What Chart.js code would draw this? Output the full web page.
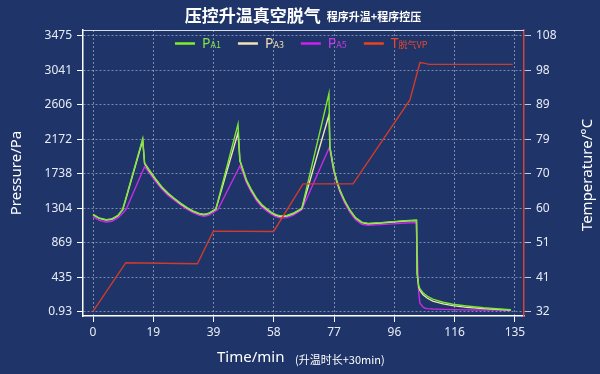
<!DOCTYPE html>
<html>
<head>
<meta charset="utf-8">
<script src="https://cdn.jsdelivr.net/npm/chart.js@4.4.0/dist/chart.umd.min.js"></script>
<style>
  html, body { margin: 0; padding: 0; background: #1F3468; }
  #wrap { width: 600px; height: 374px; }
</style>
</head>
<body>
<div id="wrap"><canvas id="chart" width="600" height="374"></canvas></div>
<script>
// time (min) for the pressure samples
const timeP = [0, 2, 4.2, 6, 8, 9.5, 10.6, 15.9, 16.5, 18, 20, 22, 24, 26, 28, 30, 32, 34, 35.5, 37, 39.3,
  40, 46.4, 47, 48, 49.1, 50.5, 52.3, 54, 55.5, 57, 58.5, 60, 62, 64, 66.8,
  75.5, 75.8, 77, 78, 79, 80.5, 82.2, 84, 86, 88, 92, 96, 100, 103.5,
  103.7, 104.2, 104.6, 105.6, 106.2, 107, 108.7, 112, 115.1, 119.5, 125, 130, 133.7];

const pA1 = [1227, 1180, 1160, 1170, 1215, 1290, 1443, 2180, 1875, 1785, 1675, 1575, 1495, 1430, 1370, 1315, 1270, 1237, 1227, 1240, 1295,
  1400, 2363, 1910, 1790, 1660, 1550, 1430, 1350, 1300, 1255, 1222, 1207, 1212, 1240, 1302,
  2750, 2075, 1800, 1650, 1533, 1400, 1281, 1185, 1128, 1113, 1122, 1135, 1147, 1155,
  500, 330, 290, 240, 220, 195, 160, 120, 95, 73, 50, 35, 25];

const pA3 = [1222, 1175, 1155, 1165, 1210, 1285, 1430, 2160, 1865, 1775, 1665, 1565, 1485, 1422, 1362, 1308, 1264, 1232, 1222, 1235, 1290,
  1385, 2254, 1900, 1780, 1650, 1540, 1422, 1342, 1292, 1248, 1215, 1200, 1205, 1234, 1298,
  2477, 2070, 1795, 1645, 1528, 1395, 1276, 1180, 1123, 1108, 1117, 1130, 1142, 1150,
  480, 310, 270, 215, 195, 170, 135, 100, 78, 56, 40, 28, 22];

const pA5 = [1197, 1150, 1130, 1140, 1185, 1240, 1290, 1772, 1826, 1750, 1640, 1545, 1465, 1405, 1345, 1292, 1248, 1213, 1203, 1213, 1270,
  1290, 1788, 1835, 1745, 1625, 1515, 1400, 1320, 1270, 1228, 1195, 1180, 1185, 1215, 1285,
  2058, 2030, 1770, 1620, 1505, 1370, 1252, 1158, 1100, 1090, 1097, 1107, 1117, 1122,
  800, 250, 107, 60, 44, 40, 35, 30, 27, 24, 22, 21, 20];

// degassing temperature
const timeT = [0, 10.5, 33.4, 38.5, 57.8, 67.2, 83.2, 101.4, 104.6, 105.5, 107.5, 134.3];
const tempT = [32.1, 45.5, 45.2, 54.2, 54.1, 67.2, 67.2, 90.3, 100.6, 100.5, 100.1, 100.1];

const xTickVals = [0, 19.29, 38.57, 57.86, 77.14, 96.43, 115.71, 135];
const xTickLabels = ['0', '19', '39', '58', '77', '96', '116', '135'];
const pTickVals = [0.93, 435.19, 869.45, 1303.7, 1738, 2172.2, 2606.5, 3040.8, 3475];
const pTickLabels = ['0.93', '435', '869', '1304', '1738', '2172', '2606', '3041', '3475'];
const tTickVals = [32, 41.5, 51, 60.5, 70, 79.5, 89, 98.5, 108];
const tTickLabels = ['32', '41', '51', '60', '70', '79', '89', '98', '108'];

const FONT = "'Noto Sans', 'Noto Sans CJK SC', sans-serif";
const CJK = "'Noto Sans CJK SC', 'Noto Sans', sans-serif";
const BG = '#1F3468';
const TXT = '#E8ECF6';
const GRID = 'rgba(200,208,230,0.55)';

const pts = (xs, ys) => xs.map((x, i) => ({ x: x, y: ys[i] }));

const bgPlugin = {
  id: 'bg',
  beforeDraw(c) {
    const g = c.ctx;
    g.save();
    g.fillStyle = BG;
    g.fillRect(0, 0, c.width, c.height);
    g.restore();
  }
};

const decor = {
  id: 'decor',
  afterDraw(c) {
    const g = c.ctx, a = c.chartArea;
    g.save();
    // top frame line
    g.strokeStyle = 'rgba(235,238,248,0.9)';
    g.lineWidth = 1;
    g.beginPath();
    g.moveTo(a.left, a.top + 0.5);
    g.lineTo(a.right, a.top + 0.5);
    g.stroke();

    // title
    g.fillStyle = '#FFFFFF';
    g.textBaseline = 'alphabetic';
    g.textAlign = 'left';
    const t1 = '压控升温真空脱气', t2 = '程序升温+程序控压';
    g.font = 'bold 17px ' + CJK;
    const w1 = g.measureText(t1).width;
    g.font = 'bold 11px ' + CJK;
    const w2 = g.measureText(t2).width;
    let x = 303 - (w1 + 6 + w2) / 2;
    g.font = 'bold 17px ' + CJK;
    g.fillText(t1, x, 22);
    g.font = 'bold 11px ' + CJK;
    g.fillText(t2, x + w1 + 6, 21);

    // legend
    const items = [
      { m: 'P', s: 'A1', line: '#7CF02A', txt: '#86E24A' },
      { m: 'P', s: 'A3', line: '#F3E2B8', txt: '#EFDDB4' },
      { m: 'P', s: 'A5', line: '#D11FF0', txt: '#C93BEA' },
      { m: 'T', s: '脱气VP', line: '#F0401E', txt: '#E84A2E' }
    ];
    x = 175;
    items.forEach(it => {
      g.strokeStyle = it.line;
      g.lineWidth = 2.5;
      g.beginPath();
      g.moveTo(x, 43.5);
      g.lineTo(x + 20, 43.5);
      g.stroke();
      g.fillStyle = it.txt;
      g.font = '14px ' + FONT;
      g.fillText(it.m, x + 27, 48);
      const wm = g.measureText(it.m).width;
      g.font = '9px ' + CJK;
      g.fillText(it.s, x + 27 + wm, 48);
      const ws = g.measureText(it.s).width;
      x = x + 27 + wm + ws + 17;
    });

    // axis titles
    g.fillStyle = '#FFFFFF';
    g.font = '15px ' + FONT;
    g.textAlign = 'center';
    g.textBaseline = 'middle';
    const midY = (a.top + a.bottom) / 2;
    g.save();
    g.translate(17, midY);
    g.rotate(-Math.PI / 2);
    g.fillText('Pressure/Pa', 0, 0);
    g.restore();
    g.save();
    g.translate(588, midY + 2);
    g.rotate(-Math.PI / 2);
    g.fillText('Temperature/°C', 0, 0);
    g.restore();

    g.textAlign = 'left';
    g.font = '15px ' + FONT;
    g.fillText('Time/min', 217, 358);
    g.font = '11px ' + CJK;
    g.fillText('(升温时长+30min)', 295, 360);
    g.restore();
  }
};

const tickFont = { family: FONT, size: 12 };

new Chart(document.getElementById('chart'), {
  type: 'line',
  data: {
    datasets: [
      { label: 'T脱气VP', data: pts(timeT, tempT), yAxisID: 'yT', borderColor: '#CF3B2C', borderWidth: 1.4, order: 0 },
      { label: 'PA1', data: pts(timeP, pA1), yAxisID: 'yP', borderColor: '#7CE630', borderWidth: 1.4, order: 1 },
      { label: 'PA3', data: pts(timeP, pA3), yAxisID: 'yP', borderColor: '#EDE4BC', borderWidth: 1.4, order: 2 },
      { label: 'PA5', data: pts(timeP, pA5), yAxisID: 'yP', borderColor: '#C72BE6', borderWidth: 1.4, order: 3 }
    ]
  },
  options: {
    responsive: false,
    animation: false,
    elements: { point: { radius: 0 }, line: { tension: 0 } },
    layout: { padding: { top: 30, left: 0, right: 0, bottom: 0 } },
    plugins: { legend: { display: false }, title: { display: false }, tooltip: { enabled: false } },
    scales: {
      x: {
        type: 'linear', min: -3.2, max: 137.9,
        afterBuildTicks: s => { s.ticks = xTickVals.map(v => ({ value: v })); },
        afterFit: s => { s.height = 58; },
        ticks: { autoSkip: false, maxRotation: 0, color: TXT, font: tickFont, padding: 3,
          callback: (v, i) => xTickLabels[i] },
        grid: { color: GRID, tickColor: '#FFFFFF', tickLength: 6 },
        border: { color: '#FFFFFF', width: 1.5, dash: [2, 2] }
      },
      yP: {
        type: 'linear', position: 'left', min: -53, max: 3547,
        afterBuildTicks: s => { s.ticks = pTickVals.map(v => ({ value: v })); },
        afterFit: s => { s.width = 83; },
        ticks: { autoSkip: false, color: TXT, font: tickFont, padding: 5,
          callback: (v, i) => pTickLabels[i] },
        grid: { color: GRID, tickColor: '#FFFFFF', tickLength: 6 },
        border: { color: '#FFFFFF', width: 1.5, dash: [2, 2] }
      },
      yT: {
        type: 'linear', position: 'right', min: 30.82, max: 109.57,
        afterBuildTicks: s => { s.ticks = tTickVals.map(v => ({ value: v })); },
        afterFit: s => { s.width = 76; },
        ticks: { autoSkip: false, color: TXT, font: tickFont, padding: 5,
          callback: (v, i) => tTickLabels[i] },
        grid: { drawOnChartArea: false, tickColor: '#C8CCD8', tickLength: 7 },
        border: { color: '#D2443A', width: 1.5 }
      }
    }
  },
  plugins: [bgPlugin, decor]
});
</script>
</body>
</html>
